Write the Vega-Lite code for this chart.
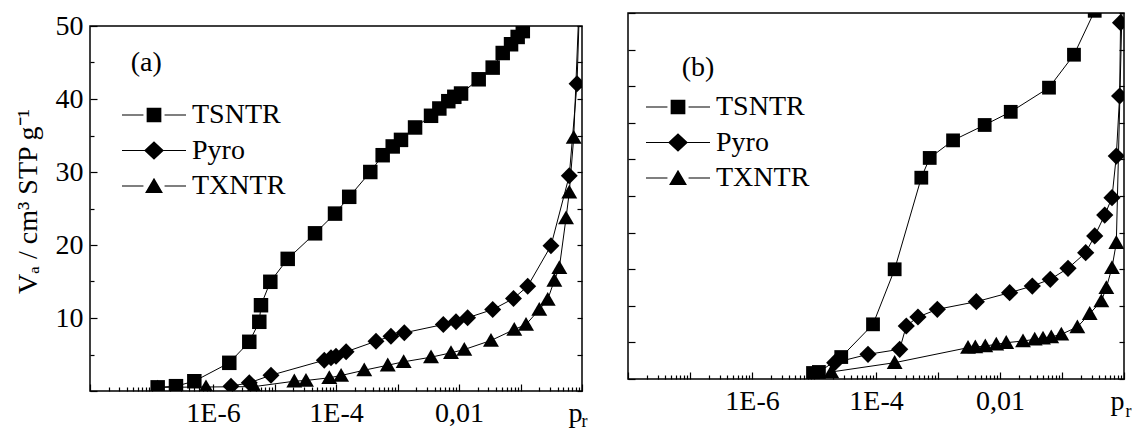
{
  "$schema": "https://vega.github.io/schema/vega-lite/v6.json",
  "padding": {"left": 13, "top": 11, "right": 0, "bottom": 0},
  "spacing": 38,
  "config": {
    "font": "Liberation Serif",
    "view": {"stroke": "black", "strokeWidth": 1.5},
    "axis": {"labelFont": "Liberation Serif", "labelFontSize": 28, "labelColor": "black", "tickColor": "black", "tickWidth": 1.2, "titleFont": "Liberation Serif", "titleFontSize": 28, "titleFontWeight": "normal", "titleColor": "black", "grid": false, "domain": false, "labelOverlap": false},
    "legend": {"orient": "none", "title": null, "padding": 0, "symbolSize": 4096, "clipHeight": 34, "rowPadding": 1.5, "labelOffset": 6, "labelFont": "Liberation Serif", "labelFontSize": 28, "labelColor": "black", "symbolFillColor": "black", "symbolStrokeWidth": 0, "symbolOpacity": 1}
  },
  "datasets": {
    "a": [
      {"series": "TSNTR", "p": 1.26e-7, "v": 0.5},
      {"series": "TSNTR", "p": 2.5e-7, "v": 0.66},
      {"series": "TSNTR", "p": 4.97e-7, "v": 1.34},
      {"series": "TSNTR", "p": 1.84e-6, "v": 3.86},
      {"series": "TSNTR", "p": 3.89e-6, "v": 6.74},
      {"series": "TSNTR", "p": 5.66e-6, "v": 9.48},
      {"series": "TSNTR", "p": 6.03e-6, "v": 11.75},
      {"series": "TSNTR", "p": 8.55e-6, "v": 14.96},
      {"series": "TSNTR", "p": 1.64e-5, "v": 18.1},
      {"series": "TSNTR", "p": 4.56e-5, "v": 21.6},
      {"series": "TSNTR", "p": 9.64e-5, "v": 24.3},
      {"series": "TSNTR", "p": 1.64e-4, "v": 26.6},
      {"series": "TSNTR", "p": 3.61e-4, "v": 30.0},
      {"series": "TSNTR", "p": 5.74e-4, "v": 32.3},
      {"series": "TSNTR", "p": 8.36e-4, "v": 33.5},
      {"series": "TSNTR", "p": 1.14e-3, "v": 34.4},
      {"series": "TSNTR", "p": 1.93e-3, "v": 36.1},
      {"series": "TSNTR", "p": 3.51e-3, "v": 37.7},
      {"series": "TSNTR", "p": 4.79e-3, "v": 38.7},
      {"series": "TSNTR", "p": 6.70e-3, "v": 39.7},
      {"series": "TSNTR", "p": 8.39e-3, "v": 40.3},
      {"series": "TSNTR", "p": 1.08e-2, "v": 40.75},
      {"series": "TSNTR", "p": 2.09e-2, "v": 42.7},
      {"series": "TSNTR", "p": 3.53e-2, "v": 44.3},
      {"series": "TSNTR", "p": 5.14e-2, "v": 46.3},
      {"series": "TSNTR", "p": 7.02e-2, "v": 47.5},
      {"series": "TSNTR", "p": 8.99e-2, "v": 48.5},
      {"series": "TSNTR", "p": 0.109, "v": 49.3},
      {"series": "Pyro", "p": 1.96e-6, "v": 0.66},
      {"series": "Pyro", "p": 3.89e-6, "v": 1.12},
      {"series": "Pyro", "p": 8.77e-6, "v": 2.16},
      {"series": "Pyro", "p": 6.45e-5, "v": 4.22},
      {"series": "Pyro", "p": 8.30e-5, "v": 4.55},
      {"series": "Pyro", "p": 1.0e-4, "v": 4.77},
      {"series": "Pyro", "p": 1.46e-4, "v": 5.37},
      {"series": "Pyro", "p": 4.47e-4, "v": 6.82},
      {"series": "Pyro", "p": 7.83e-4, "v": 7.51},
      {"series": "Pyro", "p": 1.29e-3, "v": 7.97},
      {"series": "Pyro", "p": 5.56e-3, "v": 9.11},
      {"series": "Pyro", "p": 8.93e-3, "v": 9.48},
      {"series": "Pyro", "p": 1.38e-2, "v": 10.03},
      {"series": "Pyro", "p": 3.53e-2, "v": 11.16},
      {"series": "Pyro", "p": 7.69e-2, "v": 12.67},
      {"series": "Pyro", "p": 0.131, "v": 14.36},
      {"series": "Pyro", "p": 0.313, "v": 19.9},
      {"series": "Pyro", "p": 0.621, "v": 29.5},
      {"series": "Pyro", "p": 0.83, "v": 42.1},
      {"series": "Pyro", "p": 0.97, "v": 60},
      {"series": "TXNTR", "p": 1.26e-7, "v": 0.5},
      {"series": "TXNTR", "p": 7.69e-7, "v": 0.55},
      {"series": "TXNTR", "p": 4.65e-6, "v": 0.6},
      {"series": "TXNTR", "p": 2.10e-5, "v": 1.34},
      {"series": "TXNTR", "p": 3.25e-5, "v": 1.44},
      {"series": "TXNTR", "p": 7.78e-5, "v": 1.81},
      {"series": "TXNTR", "p": 1.21e-4, "v": 2.12},
      {"series": "TXNTR", "p": 2.88e-4, "v": 2.85},
      {"series": "TXNTR", "p": 6.94e-4, "v": 3.53},
      {"series": "TXNTR", "p": 1.26e-3, "v": 4.0},
      {"series": "TXNTR", "p": 3.51e-3, "v": 4.63},
      {"series": "TXNTR", "p": 7.41e-3, "v": 5.23},
      {"series": "TXNTR", "p": 1.22e-2, "v": 5.68},
      {"series": "TXNTR", "p": 3.31e-2, "v": 6.92},
      {"series": "TXNTR", "p": 7.92e-2, "v": 8.42},
      {"series": "TXNTR", "p": 0.123, "v": 9.11},
      {"series": "TXNTR", "p": 0.202, "v": 11.16},
      {"series": "TXNTR", "p": 0.277, "v": 12.53},
      {"series": "TXNTR", "p": 0.355, "v": 15.14},
      {"series": "TXNTR", "p": 0.428, "v": 16.88},
      {"series": "TXNTR", "p": 0.55, "v": 23.7},
      {"series": "TXNTR", "p": 0.621, "v": 27.2},
      {"series": "TXNTR", "p": 0.733, "v": 34.7},
      {"series": "TXNTR", "p": 0.97, "v": 60}
    ],
    "b": [
      {"series": "TSNTR", "p": 9.64e-6, "v": 0.82},
      {"series": "TSNTR", "p": 1.20e-5, "v": 0.96},
      {"series": "TSNTR", "p": 2.75e-5, "v": 3.0},
      {"series": "TSNTR", "p": 8.95e-5, "v": 7.47},
      {"series": "TSNTR", "p": 2.0e-4, "v": 14.99},
      {"series": "TSNTR", "p": 5.38e-4, "v": 27.5},
      {"series": "TSNTR", "p": 7.35e-4, "v": 30.2},
      {"series": "TSNTR", "p": 1.75e-3, "v": 32.6},
      {"series": "TSNTR", "p": 5.66e-3, "v": 34.7},
      {"series": "TSNTR", "p": 1.49e-2, "v": 36.5},
      {"series": "TSNTR", "p": 6.17e-2, "v": 39.8},
      {"series": "TSNTR", "p": 0.156, "v": 44.3},
      {"series": "TSNTR", "p": 0.337, "v": 50.3},
      {"series": "Pyro", "p": 2.16e-5, "v": 2.23},
      {"series": "Pyro", "p": 7.43e-5, "v": 3.37},
      {"series": "Pyro", "p": 2.41e-4, "v": 4.06},
      {"series": "Pyro", "p": 3.08e-4, "v": 7.24},
      {"series": "Pyro", "p": 4.75e-4, "v": 8.47},
      {"series": "Pyro", "p": 9.75e-4, "v": 9.52},
      {"series": "Pyro", "p": 4.15e-3, "v": 10.56},
      {"series": "Pyro", "p": 1.43e-2, "v": 11.79},
      {"series": "Pyro", "p": 3.32e-2, "v": 12.7},
      {"series": "Pyro", "p": 6.47e-2, "v": 13.62},
      {"series": "Pyro", "p": 0.125, "v": 15.12},
      {"series": "Pyro", "p": 0.241, "v": 17.25},
      {"series": "Pyro", "p": 0.337, "v": 19.54},
      {"series": "Pyro", "p": 0.489, "v": 22.4},
      {"series": "Pyro", "p": 0.64, "v": 24.77},
      {"series": "Pyro", "p": 0.752, "v": 30.46},
      {"series": "Pyro", "p": 0.85, "v": 38.66},
      {"series": "Pyro", "p": 0.88, "v": 48.67},
      {"series": "Pyro", "p": 0.99, "v": 60},
      {"series": "TXNTR", "p": 1.9e-5, "v": 0.96},
      {"series": "TXNTR", "p": 2.0e-4, "v": 2.23},
      {"series": "TXNTR", "p": 3.05e-3, "v": 4.28},
      {"series": "TXNTR", "p": 4.0e-3, "v": 4.37},
      {"series": "TXNTR", "p": 5.79e-3, "v": 4.51},
      {"series": "TXNTR", "p": 8.71e-3, "v": 4.74},
      {"series": "TXNTR", "p": 1.26e-2, "v": 4.96},
      {"series": "TXNTR", "p": 2.35e-2, "v": 5.19},
      {"series": "TXNTR", "p": 3.63e-2, "v": 5.42},
      {"series": "TXNTR", "p": 4.94e-2, "v": 5.56},
      {"series": "TXNTR", "p": 6.71e-2, "v": 5.74},
      {"series": "TXNTR", "p": 9.75e-2, "v": 6.11},
      {"series": "TXNTR", "p": 0.177, "v": 7.1},
      {"series": "TXNTR", "p": 0.28, "v": 8.92},
      {"series": "TXNTR", "p": 0.431, "v": 10.66},
      {"series": "TXNTR", "p": 0.519, "v": 12.47},
      {"series": "TXNTR", "p": 0.64, "v": 15.2},
      {"series": "TXNTR", "p": 0.752, "v": 18.62},
      {"series": "TXNTR", "p": 0.99, "v": 60}
    ]
  },
  "hconcat": [
    {
      "spacing": -3,
      "vconcat": [
        {
          "width": 492,
          "height": 1,
          "view": {"stroke": null},
          "data": {"values": []},
          "mark": "point",
          "encoding": {}
        },
        {
          "width": 492,
          "height": 365,
          "data": {"name": "a"},
          "layer": [
            {
              "mark": {"type": "line", "color": "black", "strokeWidth": 1, "clip": true},
              "encoding": {
                "x": {"field": "p", "type": "quantitative", "scale": {"type": "log", "domain": [1e-8, 1]},
                  "axis": {"title": "r", "titleFontSize": 18, "titleX": 491, "titleY": 30, "titleAlign": "left", "titleBaseline": "middle", "titleAngle": 0,
                    "labelFlush": false, "labelPadding": 15,
                    "labelAlign": {"condition": {"test": "datum.value > 0.99", "value": "right"}, "value": "center"},
                    "values": [1e-8,2e-8,3e-8,4e-8,5e-8,6e-8,7e-8,8e-8,9e-8,1e-7,2e-7,3e-7,4e-7,5e-7,6e-7,7e-7,8e-7,9e-7,1e-6,2e-6,3e-6,4e-6,5e-6,6e-6,7e-6,8e-6,9e-6,1e-5,2e-5,3e-5,4e-5,5e-5,6e-5,7e-5,8e-5,9e-5,1e-4,2e-4,3e-4,4e-4,5e-4,6e-4,7e-4,8e-4,9e-4,0.001,0.002,0.003,0.004,0.005,0.006,0.007,0.008,0.009,0.01,0.02,0.03,0.04,0.05,0.06,0.07,0.08,0.09,0.1,0.2,0.3,0.4,0.5,0.6,0.7,0.8,0.9,1],
                    "labelExpr": "abs(datum.value/1e-6-1)<0.001 ? '1E-6' : abs(datum.value/1e-4-1)<0.001 ? '1E-4' : abs(datum.value/0.01-1)<0.001 ? '0,01' : abs(datum.value-1)<0.001 ? 'p' : ''",
                    "tickSize": {"condition": {"test": "abs(log(datum.value)/LN10 - round(log(datum.value)/LN10)) < 0.001", "value": -7}, "value": -4}}},
                "y": {"field": "v", "type": "quantitative", "scale": {"domain": [0, 50]},
                  "axis": {"title": "Vₐ / cm³ STP g⁻¹", "titlePadding": 13, "labelPadding": 14, "titleY": 175,
                    "values": [0,5,10,15,20,25,30,35,40,45,50],
                    "labelExpr": "datum.value % 10 == 0 && datum.value > 0 ? datum.label : ''",
                    "tickSize": {"condition": {"test": "datum.value % 10 == 0", "value": -7}, "value": -4}}},
                "detail": {"field": "series"}
              }
            },
            {
              "mark": {"type": "point", "filled": true, "color": "black", "opacity": 1, "clip": true, "size": 210},
              "encoding": {
                "x": {"field": "p", "type": "quantitative"},
                "y": {"field": "v", "type": "quantitative",
                  "axis": {"orient": "right", "title": null, "labels": false, "values": [0,5,10,15,20,25,30,35,40,45,50], "tickSize": -5}},
                "shape": {"field": "series", "type": "nominal",
                  "scale": {"domain": ["TSNTR", "Pyro", "TXNTR"], "range": ["M-1,-1H1V1H-1Z", "M-1.17,0L0,-1.17L1.17,0L0,1.17Z", "M-1.1,0.85L1.1,0.85L0,-1.05Z"]},
                  "legend": null}
              }
            },
            {
              "transform": [{"filter": "false"}],
              "mark": {"type": "point", "filled": true, "color": "black", "opacity": 1},
              "encoding": {
                "shape": {"field": "series", "type": "nominal",
                  "scale": {"domain": ["TSNTR", "Pyro", "TXNTR"], "range": [
                    "M-1,-0.018H-0.33V0.018H-1Z M0.33,-0.018H1V0.018H0.33Z M-0.23,-0.23H0.23V0.23H-0.23Z",
                    "M-1,-0.018H-0.3V0.018H-1Z M0.3,-0.018H1V0.018H0.3Z M-0.31,0L0,-0.29L0.31,0L0,0.29Z",
                    "M-1,-0.018H-0.33V0.018H-1Z M0.33,-0.018H1V0.018H0.33Z M-0.28,0.22L0.28,0.22L0,-0.26Z"]},
                  "legend": {"legendX": 32, "legendY": 72}}
              }
            },
            {
              "data": {"values": [{"t": "(a)", "p": 8.2e-8, "v": 45}]},
              "mark": {"type": "text", "font": "Liberation Serif", "fontSize": 28, "color": "black"},
              "encoding": {
                "x": {"field": "p", "type": "quantitative"},
                "y": {"field": "v", "type": "quantitative", "axis": null},
                "text": {"field": "t"}
              }
            }
          ],
          "resolve": {"axis": {"y": "independent"}, "scale": {"shape": "independent"}}
        }
      ]
    },
    {
      "width": 496,
      "height": 366,
      "data": {"name": "b"},
      "layer": [
        {
          "mark": {"type": "line", "color": "black", "strokeWidth": 1, "clip": true},
          "encoding": {
            "x": {"field": "p", "type": "quantitative", "scale": {"type": "log", "domain": [1e-8, 1]},
              "axis": {"title": "r", "titleFontSize": 18, "titleX": 497, "titleY": 32, "titleAlign": "left", "titleBaseline": "middle", "titleAngle": 0,
                "labelFlush": false, "labelPadding": 15,
                "labelAlign": {"condition": {"test": "datum.value > 0.99", "value": "right"}, "value": "center"},
                "values": [1e-8,2e-8,3e-8,4e-8,5e-8,6e-8,7e-8,8e-8,9e-8,1e-7,2e-7,3e-7,4e-7,5e-7,6e-7,7e-7,8e-7,9e-7,1e-6,2e-6,3e-6,4e-6,5e-6,6e-6,7e-6,8e-6,9e-6,1e-5,2e-5,3e-5,4e-5,5e-5,6e-5,7e-5,8e-5,9e-5,1e-4,2e-4,3e-4,4e-4,5e-4,6e-4,7e-4,8e-4,9e-4,0.001,0.002,0.003,0.004,0.005,0.006,0.007,0.008,0.009,0.01,0.02,0.03,0.04,0.05,0.06,0.07,0.08,0.09,0.1,0.2,0.3,0.4,0.5,0.6,0.7,0.8,0.9,1],
                "labelExpr": "abs(datum.value/1e-6-1)<0.001 ? '1E-6' : abs(datum.value/1e-4-1)<0.001 ? '1E-4' : abs(datum.value/0.01-1)<0.001 ? '0,01' : abs(datum.value-1)<0.001 ? 'p' : ''",
                "tickSize": {"condition": {"test": "abs(log(datum.value)/LN10 - round(log(datum.value)/LN10)) < 0.001", "value": -7}, "value": -4}}},
            "y": {"field": "v", "type": "quantitative", "scale": {"domain": [0, 50]},
              "axis": {"title": null, "labels": false, "values": [0,5,10,15,20,25,30,35,40,45,50], "tickSize": -7}},
            "detail": {"field": "series"}
          }
        },
        {
          "mark": {"type": "point", "filled": true, "color": "black", "opacity": 1, "clip": true, "size": 190},
          "encoding": {
            "x": {"field": "p", "type": "quantitative"},
            "y": {"field": "v", "type": "quantitative",
              "axis": {"orient": "right", "title": null, "labels": false, "values": [0,5,10,15,20,25,30,35,40,45,50], "tickSize": -5}},
            "shape": {"field": "series", "type": "nominal",
              "scale": {"domain": ["TSNTR", "Pyro", "TXNTR"], "range": ["M-1,-1H1V1H-1Z", "M-1.25,0L0,-1.25L1.25,0L0,1.25Z", "M-1.15,0.9L1.15,0.9L0,-1.1Z"]},
              "legend": null}
          }
        },
        {
          "transform": [{"filter": "false"}],
          "mark": {"type": "point", "filled": true, "color": "black", "opacity": 1},
          "encoding": {
            "shape": {"field": "series", "type": "nominal",
              "scale": {"domain": ["TSNTR", "Pyro", "TXNTR"], "range": [
                "M-1,-0.018H-0.33V0.018H-1Z M0.33,-0.018H1V0.018H0.33Z M-0.23,-0.23H0.23V0.23H-0.23Z",
                "M-1,-0.018H-0.3V0.018H-1Z M0.3,-0.018H1V0.018H0.3Z M-0.31,0L0,-0.29L0.31,0L0,0.29Z",
                "M-1,-0.018H-0.33V0.018H-1Z M0.33,-0.018H1V0.018H0.33Z M-0.28,0.22L0.28,0.22L0,-0.26Z"]},
              "legend": {"legendX": 18, "legendY": 77}}
          }
        },
        {
          "data": {"values": [{"t": "(b)", "p": 1.35e-7, "v": 42.5}]},
          "mark": {"type": "text", "font": "Liberation Serif", "fontSize": 28, "color": "black"},
          "encoding": {
            "x": {"field": "p", "type": "quantitative"},
            "y": {"field": "v", "type": "quantitative", "axis": null},
            "text": {"field": "t"}
          }
        }
      ],
      "resolve": {"axis": {"y": "independent"}, "scale": {"shape": "independent"}}
    }
  ],
  "resolve": {"scale": {"x": "independent", "y": "independent", "shape": "independent"}, "legend": {"shape": "independent"}}
}
